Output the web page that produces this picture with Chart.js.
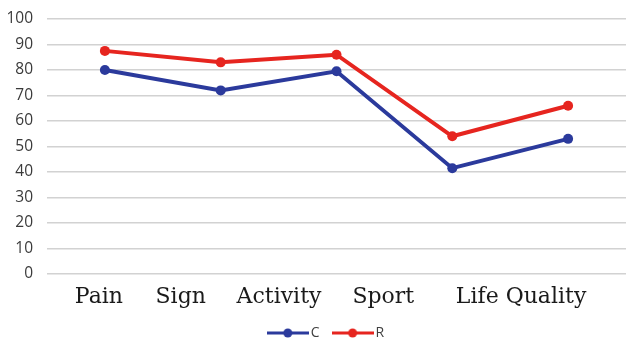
<!DOCTYPE html>
<html>
<head>
<meta charset="utf-8">
<script src="https://cdn.jsdelivr.net/npm/chart.js@4/dist/chart.umd.min.js"></script>
<style>
  html, body { margin: 0; padding: 0; background: #fff; overflow: hidden; }
  #wrap { width: 628px; height: 343px; overflow: hidden; position: relative; }
  #box { position: absolute; left: 0; top: 0; width: 631px; height: 350px; }
</style>
</head>
<body>
<div id="wrap"><div id="box"><canvas id="chart"></canvas></div></div>
<script>
// Categories and the two score series
const categories = ['Pain', 'Sign', 'Activity', 'Sport', 'Life Quality'];
const seriesC = [80, 72, 79.5, 41.5, 53];
const seriesR = [87.5, 83, 86, 54, 66];
const yMin = 0, yMax = 100, yStep = 10;

const BLUE = '#2b3a9c';
const RED = '#e6251f';

// Legend swatch: a short line with a dot in the middle
function swatch(color) {
  const c = document.createElement('canvas');
  c.width = 42; c.height = 12;
  const g = c.getContext('2d');
  g.strokeStyle = color; g.lineWidth = 3;
  g.beginPath(); g.moveTo(0, 6); g.lineTo(42, 6); g.stroke();
  g.fillStyle = color;
  g.beginPath(); g.arc(21, 6, 4.5, 0, Math.PI * 2); g.fill();
  return c;
}

// Category names set as one serif line under the plot
const categoryText = {
  id: 'categoryText',
  afterDraw(chart, args, opts) {
    const { ctx } = chart;
    const x = chart.scales.x;
    ctx.save();
    ctx.font = opts.font;
    ctx.fillStyle = opts.color;
    ctx.textAlign = 'center';
    ctx.textBaseline = 'alphabetic';
    chart.data.labels.forEach((label, i) => {
      ctx.fillText(label, x.getPixelForTick(i) + opts.shift[i], x.top + opts.baseline);
    });
    ctx.restore();
  }
};

// Nudge the legend row sideways after layout
const legendNudge = {
  id: 'legendNudge',
  afterLayout(chart, args, opts) {
    if (chart.legend) {
      chart.legend.left += opts.dx;
      chart.legend.right += opts.dx;
    }
  }
};

new Chart(document.getElementById('chart'), {
  type: 'line',
  data: {
    labels: categories,
    datasets: [
      {
        label: 'C', data: seriesC,
        borderColor: BLUE, backgroundColor: BLUE,
        borderWidth: 4, pointRadius: 5, pointBackgroundColor: BLUE, pointBorderWidth: 0,
        tension: 0
      },
      {
        label: 'R', data: seriesR,
        borderColor: RED, backgroundColor: RED,
        borderWidth: 4, pointRadius: 5, pointBackgroundColor: RED, pointBorderWidth: 0,
        tension: 0
      }
    ]
  },
  options: {
    responsive: true,
    maintainAspectRatio: false,
    animation: false,
    layout: { padding: { left: 0, top: 19, right: 0, bottom: 0 } },
    scales: {
      x: {
        offset: true,
        grid: { display: false },
        border: { display: false },
        ticks: { display: false },
        afterFit(scale) { scale.height = 35; }
      },
      y: {
        min: yMin, max: yMax,
        ticks: {
          stepSize: yStep, padding: 14, color: '#3a3a3a',
          font: { family: 'Open Sans', size: 15.5 }
        },
        grid: { color: '#d2d2d2', lineWidth: 1.5, drawTicks: false },
        border: { display: false },
        afterFit(scale) {
          scale.width = 47;
          scale.paddingTop = 0;
          scale.paddingBottom = 0;
        }
      }
    },
    plugins: {
      tooltip: { enabled: false },
      legend: {
        position: 'bottom',
        labels: {
          usePointStyle: true,
          pointStyleWidth: 32,
          padding: 17,
          color: '#404040',
          font: { family: 'Open Sans', size: 14 },
          generateLabels(chart) {
            const items = Chart.defaults.plugins.legend.labels.generateLabels(chart);
            return items.map(it => {
              const ds = chart.data.datasets[it.datasetIndex];
              return Object.assign(it, { pointStyle: swatch(ds.borderColor) });
            });
          }
        }
      },
      legendNudge: { dx: 12.5 },
      categoryText: {
        font: '22px "DejaVu Serif"',
        color: '#1a1a1a',
        baseline: 29,
        shift: [-6, -40, -57.5, -69, -47]
      }
    }
  },
  plugins: [categoryText, legendNudge]
});
</script>
</body>
</html>
